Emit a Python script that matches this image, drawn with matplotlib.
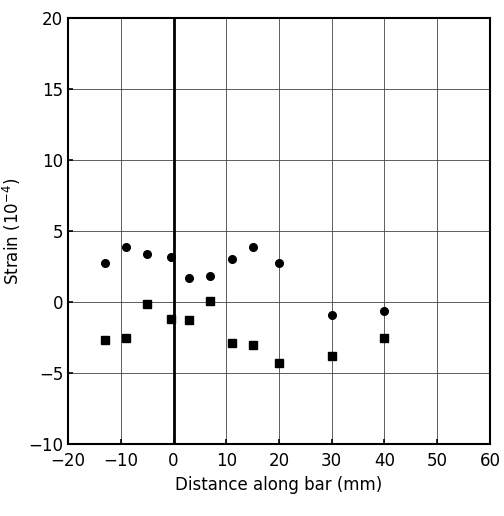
import matplotlib
matplotlib.use("Agg")
import matplotlib.pyplot as plt

circ_x = [-13, -9, -5, -0.5, 3, 7, 11, 15, 20, 30, 40]
circ_y = [2.75, 3.9, 3.4, 3.2, 1.7, 1.8, 3.0, 3.9, 2.75, -0.9, -0.6]
sq_x = [-13, -9, -5, -0.5, 3, 7, 11, 15, 20, 30, 40]
sq_y = [-2.7, -2.55, -0.15, -1.2, -1.3, 0.1, -2.9, -3.05, -4.3, -3.8, -2.55]

fig = plt.figure(figsize=(5.04, 5.16), dpi=100)
ax = fig.add_axes([0.135, 0.1395, 0.837, 0.8255])
ax.set_xlim(-20, 60)
ax.set_ylim(-10, 20)
ax.set_xticks(range(-20, 61, 10))
ax.set_yticks(range(-10, 21, 5))
ax.grid(True, color="#444444", linewidth=0.6)
ax.axvline(0, color="black", linewidth=2)
ax.plot(circ_x, circ_y, "o", color="black", markersize=5.5)
ax.plot(sq_x, sq_y, "s", color="black", markersize=5.5)
for s in ax.spines.values():
    s.set_linewidth(1.5)
ax.tick_params(direction="in", labelsize=12, width=1.2)
ax.tick_params(axis="x", pad=6)
ax.set_xlabel("Distance along bar (mm)", fontsize=12)
ax.set_ylabel("Strain (10$^{-4}$)", fontsize=12)
fig.savefig("out.png")
